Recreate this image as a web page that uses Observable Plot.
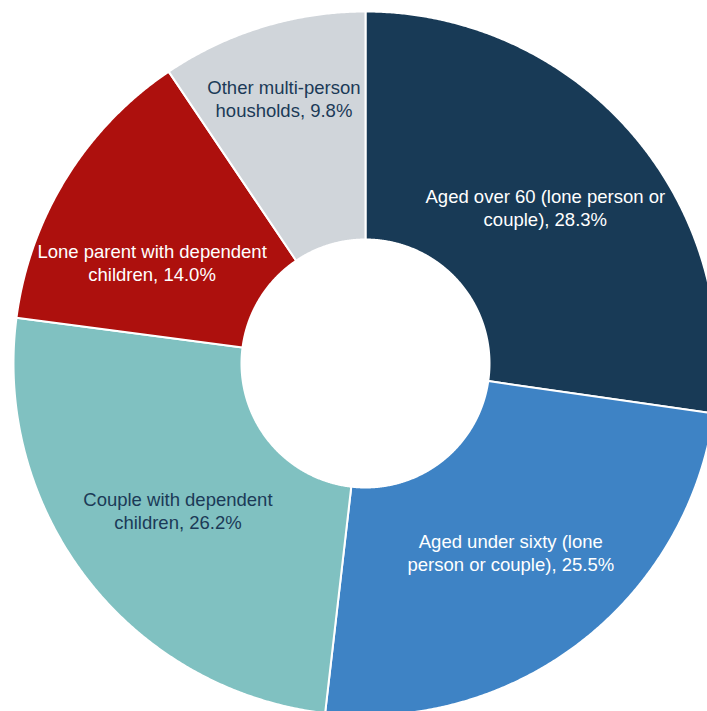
<!DOCTYPE html>
<html><head><meta charset="utf-8">
<script src="https://cdn.jsdelivr.net/npm/d3@7"></script>
<script src="https://cdn.jsdelivr.net/npm/@observablehq/plot@0.6"></script>
<style>html,body{margin:0;padding:0;background:#fff;overflow:hidden}svg{display:block}</style>
</head><body><div id="chart"></div>
<script>
// ---- data ----
const categories = [
  "Aged over 60 (lone person or couple)",
  "Aged under sixty (lone person or couple)",
  "Couple with dependent children",
  "Lone parent with dependent children",
  "Other multi-person housholds"
];
const shares = [28.3, 25.5, 26.2, 14.0, 9.8];
const labels = [
  "Aged over 60 (lone person or\ncouple), 28.3%",
  "Aged under sixty (lone\nperson or couple), 25.5%",
  "Couple with dependent\nchildren, 26.2%",
  "Lone parent with dependent\nchildren, 14.0%",
  "Other multi-person\nhousholds, 9.8%"
];
const sliceColors = ["#183a56", "#3e83c5", "#80c1c1", "#ad100d", "#d0d5da"];
const labelColors = ["#ffffff", "#ffffff", "#1b3a57", "#ffffff", "#1b3a57"];

// ---- layout ----
const W = 707, H = 711;
const CX = 365, CY = 363, R = 352, R0 = 124;
const inner = R0 / R;
// label nudges in pixels (Excel moved labels that did not fit their slice)
const nudge = [[0, 0], [0, 0], [0, 0], [-11, 24], [-12, -38]];

const pie = d3.pie().sort(null).value(d => d)(shares);
const pts = [];
pie.forEach((p, i) => {
  const n = Math.max(10, Math.ceil((p.endAngle - p.startAngle) / 0.005));
  const ring = [];
  for (let k = 0; k <= n; k++) {
    const a = p.startAngle + (p.endAngle - p.startAngle) * k / n;
    ring.push([Math.sin(a), Math.cos(a)]);
  }
  for (let k = n; k >= 0; k--) {
    const a = p.startAngle + (p.endAngle - p.startAngle) * k / n;
    ring.push([inner * Math.sin(a), inner * Math.cos(a)]);
  }
  ring.push(ring[0]);
  ring.forEach(([x, y]) => pts.push({x, y, cat: categories[i], color: sliceColors[i]}));
});

const labelData = pie.map((p, i) => {
  const a = (p.startAngle + p.endAngle) / 2;
  const r = (1 + inner) / 2;
  return {
    x: r * Math.sin(a) + nudge[i][0] / R,
    y: r * Math.cos(a) - nudge[i][1] / R,
    text: labels[i],
    color: labelColors[i]
  };
});

const chart = Plot.plot({
  width: W, height: H,
  margin: 0,
  style: {background: "#fff"},
  x: {domain: [-CX / R, (W - CX) / R], axis: null},
  y: {domain: [(CY - H) / R, CY / R], axis: null},
  color: {type: "identity"},
  marks: [
    Plot.line(pts, {x: "x", y: "y", z: "cat", fill: "color", stroke: "white", strokeWidth: 2, curve: "linear", clip: true}),
    Plot.text(labelData, {
      x: "x", y: "y", text: "text", fill: "color",
      fontSize: 18.5, lineHeight: 1.24, fontFamily: "Liberation Sans, Arial, sans-serif",
      textAnchor: "middle", lineAnchor: "middle"
    })
  ]
});
document.getElementById("chart").appendChild(chart);
</script>
</body></html>
